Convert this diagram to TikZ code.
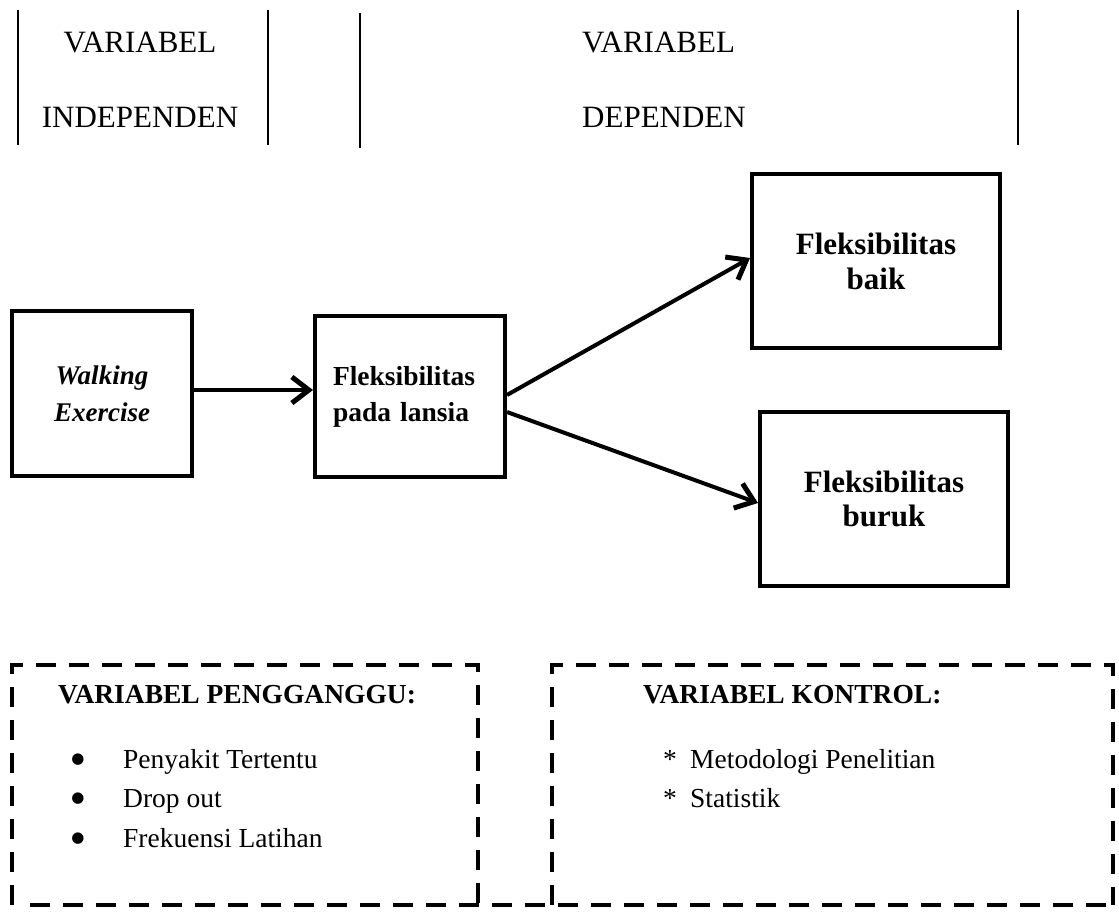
\documentclass[tikz,border=0pt]{standalone}
\usepackage{fontspec}
\setmainfont{Liberation Serif}
\newfontfamily\symfont{DejaVu Sans}
\usetikzlibrary{arrows.meta}
\begin{document}
\begin{tikzpicture}[x=1pt,y=-1pt,
  sep/.style={line width=2pt},
  head/.style={font=\fontsize{31}{37}\selectfont, inner sep=0pt},
  box/.style={draw, line width=4pt, inner sep=0pt, align=center},
  conn/.style={line width=4pt, -{Straight Barb[length=17pt,width=26pt,line width=5pt]}},
  dashbox/.style={line width=4pt, dash pattern=on 20pt off 13pt},
  lbl/.style={inner sep=0pt, anchor=base west, font=\fontsize{27.5}{33}\selectfont},
  bul/.style={inner sep=0pt, anchor=base, font=\symfont\fontsize{15}{15}\selectfont}
]
\useasboundingbox (0,0) rectangle (1119,913);
% header separators
\draw[sep] (18,10) -- (18,145);
\draw[sep] (268,10) -- (268,145);
\draw[sep] (360,13) -- (360,148);
\draw[sep] (1018,10) -- (1018,145);
\node[head, anchor=base] (h1) at (140,52) {VARIABEL};
\node[head, anchor=base] (h2) at (140,127) {INDEPENDEN};
\node[head, anchor=base west] (h3) at (582,52) {VARIABEL};
\node[head, anchor=base west] (h4) at (582,127) {DEPENDEN};
% boxes
\node[box, minimum width=180pt, minimum height=165pt,
  font=\fontsize{27}{37}\selectfont\bfseries\itshape] (n1) at (102,393.5) {Walking\\Exercise};
\node[box, minimum width=190pt, minimum height=161pt, text width=154pt,
  font=\fontsize{27.5}{36}\selectfont\bfseries, align=left] (n2) at (410,396.5) {Fleksibilitas\\pada lansia};
\node[box, minimum width=248pt, minimum height=174pt,
  font=\fontsize{31}{35}\selectfont\bfseries] (n3) at (876,261) {Fleksibilitas\\baik};
\node[box, minimum width=248pt, minimum height=174pt,
  font=\fontsize{31}{34}\selectfont\bfseries] (n4) at (884,499) {Fleksibilitas\\buruk};
% connectors
\draw[conn] ([yshift=3.5pt]n1.east) -- ([yshift=3.5pt]n1.east -| n2.west);
\draw[conn] ([yshift=1.5pt]n2.east) -- ([yshift=3pt]n3.west);
\draw[conn] ([yshift=-15.5pt]n2.east) -- ([yshift=-4pt]n4.west);
% dashed boxes
\draw[dashbox] (12,905) -- (12,665) -- (478,665) -- (478,905);
\draw[dashbox] (552,905) -- (552,665) -- (1113,665) -- (1113,905);
\draw[dashbox] (30,905) -- (1113,905);
% texts in dashed boxes
\node[lbl, font=\fontsize{27.5}{33}\selectfont\bfseries] (p0) at (58,703) {VARIABEL PENGGANGGU:};
\node[bul] (b1) at (78,763) {●};
\node[bul] (b2) at (78,802) {●};
\node[bul] (b3) at (78,842) {●};
\node[lbl] (p1) at (123,768) {Penyakit Tertentu};
\node[lbl] (p2) at (123,807) {Drop out};
\node[lbl] (p3) at (123,847) {Frekuensi Latihan};
\node[lbl, font=\fontsize{27.5}{33}\selectfont\bfseries] (k0) at (643,703) {VARIABEL KONTROL:};
\node[lbl] (a1) at (663,768) {*};
\node[lbl] (a2) at (663,807) {*};
\node[lbl] (k1) at (690,768) {Metodologi Penelitian};
\node[lbl] (k2) at (690,807) {Statistik};
\end{tikzpicture}
\end{document}
